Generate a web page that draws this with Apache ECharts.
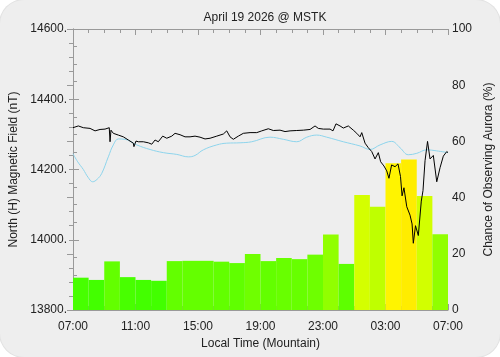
<!DOCTYPE html>
<html>
<head>
<meta charset="utf-8">
<script src="https://cdn.jsdelivr.net/npm/echarts@6/dist/echarts.min.js"></script>
<style>
  body { margin: 0; background: #ffffff; }
  #chart {
    width: 500px; height: 357px;
    background: #eeeeee;
    border-radius: 24px;
    box-shadow: 0 0 0 1px #e2e2e2;
  }
</style>
</head>
<body>
<div id="chart"></div>
<script>
// hourly aurora chance (%), 07:00 -> 06:00
const barHours = ['07', '08', '09', '10', '11', '12', '13', '14', '15', '16', '17', '18',
  '19', '20', '21', '22', '23', '00', '01', '02', '03', '04', '05', '06'];
const barChance = [11.5, 10.7, 17.3, 11.7, 10.7, 10.4, 17.4, 17.5, 17.5, 17.2, 16.7, 19.9,
  17.4, 18.5, 18.1, 19.7, 26.9, 16.4, 40.9, 36.7, 52.2, 53.6, 40.6, 27.0];

// measured H field, hours since 07:00
const fieldHours = [0, 0.34, 0.66, 1.09, 1.41, 1.73, 2.05, 2.32, 2.37, 2.43, 2.58, 2.90, 3.22, 3.54,
  3.86, 3.90, 4.03, 4.18, 4.50, 4.82, 5.04, 5.25, 5.46, 5.74, 6.00, 6.32, 6.53, 6.85, 7.17, 7.49,
  7.81, 8.13, 8.45, 8.77, 9.20, 9.62, 9.84, 10.05, 10.26, 10.58, 10.90, 11.33, 11.76, 12.08, 12.50,
  12.82, 13.25, 13.57, 13.89, 14.32, 14.74, 15.17, 15.49, 15.70, 16.02, 16.45, 16.64, 16.83, 17.09,
  17.30, 17.62, 17.94, 18.16, 18.37, 18.48, 18.69, 18.90, 19.12, 19.33, 19.54, 19.69, 19.90, 20.08,
  20.22, 20.39, 20.61, 20.80, 20.96, 21.06, 21.18, 21.36, 21.57, 21.70, 21.78, 21.92, 22.10, 22.29,
  22.40, 22.53, 22.69, 22.85, 23.06, 23.28, 23.49, 23.70, 23.92, 24.00];
const fieldNT = [14319, 14324, 14319, 14317, 14310, 14314, 14315, 14319, 14279, 14312, 14303, 14298,
  14293, 14284, 14275, 14265, 14281, 14279, 14279, 14276, 14272, 14284, 14279, 14295, 14289, 14295,
  14303, 14299, 14293, 14293, 14295, 14292, 14287, 14289, 14295, 14301, 14310, 14293, 14286, 14295,
  14303, 14305, 14305, 14310, 14316, 14311, 14312, 14308, 14310, 14311, 14312, 14314, 14324, 14317,
  14315, 14315, 14310, 14330, 14324, 14318, 14324, 14312, 14303, 14293, 14305, 14275, 14262, 14251,
  14230, 14248, 14222, 14210, 14196, 14175, 14213, 14208, 14216, 14180, 14125, 14148, 14094, 14070,
  14045, 13990, 14040, 14012, 14110, 14140, 14225, 14280, 14230, 14240, 14165, 14205, 14238, 14251,
  14248];

// quiet-day baseline
const baseHours = [0, 0.3, 0.66, 0.96, 1.26, 1.54, 1.84, 2.26, 2.58, 2.90, 3.33, 4.08, 4.93, 5.78,
  6.64, 7.38, 7.81, 8.34, 9.20, 9.84, 10.69, 11.44, 12.61, 13.46, 14.32, 14.96, 15.60, 16.24, 17.30,
  18.37, 19.01, 19.65, 20.40, 20.93, 21.46, 22.00, 22.64, 23.28, 24];
const baseNT = [14245, 14222, 14200, 14178, 14165, 14172, 14189, 14236, 14270, 14287, 14286, 14270,
  14257, 14248, 14243, 14236, 14240, 14256, 14270, 14275, 14276, 14279, 14292, 14286, 14279, 14292,
  14298, 14292, 14279, 14267, 14257, 14270, 14280, 14262, 14242, 14246, 14256, 14253, 14248];

const fontFamily = '"Liberation Sans", Arial, sans-serif';
const axisColor = '#999999';
const textColor = '#222222';

const timeLabel = v => String((v + 7) % 24).padStart(2, '0') + ':00';

const chart = echarts.init(document.getElementById('chart'));

chart.setOption({
  animation: false,
  textStyle: { fontFamily: fontFamily },
  title: {
    text: 'April 19 2026 @ MSTK',
    left: 260, top: 7, textAlign: 'center',
    textStyle: { fontSize: 12, fontWeight: 'normal', color: textColor, fontFamily: fontFamily }
  },
  grid: { left: 73, right: 52, top: 29, bottom: 47, outerBoundsMode: 'none' },
  visualMap: {
    show: false, seriesIndex: 0, dimension: 1, min: 0, max: 100,
    inRange: { color: ['#10ff00', '#ffff00', '#ff0000'] }
  },
  xAxis: [
    {
      type: 'value', min: 0, max: 24, interval: 4, position: 'bottom',
      name: 'Local Time (Mountain)', nameLocation: 'middle', nameGap: 24,
      nameTextStyle: { fontSize: 12, color: textColor },
      axisLine: { lineStyle: { color: axisColor } },
      axisTick: { inside: true, length: 6, lineStyle: { color: axisColor } },
      minorTick: { show: true, splitNumber: 4, length: 4, lineStyle: { color: axisColor } },
      axisLabel: { formatter: timeLabel, fontSize: 12, color: textColor, margin: 11 },
      splitLine: { show: false }
    },
    {
      type: 'value', min: 0, max: 24, interval: 4, position: 'top',
      axisLine: { show: true, lineStyle: { color: axisColor } },
      axisTick: { inside: true, length: 6, lineStyle: { color: axisColor } },
      minorTick: { show: true, splitNumber: 4, length: 4, lineStyle: { color: axisColor } },
      axisLabel: { show: false },
      splitLine: { show: false }
    },
    {
      type: 'category', data: barHours, show: false, boundaryGap: true
    }
  ],
  yAxis: [
    {
      type: 'value', min: 13800, max: 14600, interval: 200, position: 'left',
      name: 'North (H) Magnetic Field (nT)', nameLocation: 'middle', nameGap: 44,
      nameTextStyle: { fontSize: 12, color: textColor },
      axisLine: { show: true, lineStyle: { color: axisColor } },
      axisTick: { inside: true, length: 6, lineStyle: { color: axisColor } },
      minorTick: { show: true, splitNumber: 4, length: 4, lineStyle: { color: axisColor } },
      axisLabel: { formatter: v => v + '.', fontSize: 12, color: textColor, margin: 6 },
      splitLine: { show: false }
    },
    {
      type: 'value', min: 0, max: 100, interval: 20, position: 'right',
      name: 'Chance of Observing Aurora (%)', nameLocation: 'middle', nameGap: 19,
      nameRotate: 90,
      nameTextStyle: { fontSize: 12, color: textColor },
      axisLine: { show: true, lineStyle: { color: axisColor } },
      axisTick: { inside: true, length: 6, lineStyle: { color: axisColor } },
      minorTick: { show: true, splitNumber: 4, length: 4, lineStyle: { color: axisColor } },
      axisLabel: { fontSize: 12, color: textColor, margin: 4 },
      splitLine: { show: false }
    }
  ],
  series: [
    {
      type: 'bar', xAxisIndex: 2, yAxisIndex: 1,
      data: barChance, barCategoryGap: 0, z: 1
    },
    {
      type: 'line', xAxisIndex: 0, yAxisIndex: 0,
      data: baseHours.map((h, i) => [h, baseNT[i]]),
      smooth: 0.4, showSymbol: false,
      lineStyle: { color: '#8dd4ec', width: 1 }, z: 3
    },
    {
      type: 'line', xAxisIndex: 0, yAxisIndex: 0,
      data: fieldHours.map((h, i) => [h, fieldNT[i]]),
      showSymbol: false,
      lineStyle: { color: '#000000', width: 1 }, z: 4
    }
  ]
});
</script>
</body>
</html>
